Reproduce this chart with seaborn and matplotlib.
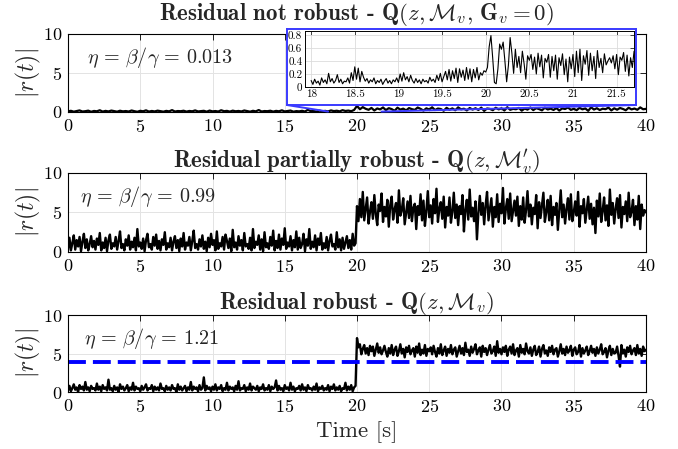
#!/usr/bin/env python3

import numpy as np
import pandas as pd
import matplotlib
matplotlib.use('Agg')
import matplotlib.pyplot as plt
import seaborn as sns
from matplotlib.patches import ConnectionPatch
from matplotlib.ticker import FuncFormatter

# ---- data (dt = 0.1 s for panels 2/3, 0.2 s for panel 1) ----
p1_pre = [0.08, 0.15, 0.04, 0.12, 0.20, 0.06, 0.10, 0.17, 0.03, 0.13,
          0.09, 0.22, 0.05, 0.14, 0.07, 0.18, 0.11, 0.04, 0.16, 0.08,
          0.12, 0.06, 0.19, 0.10, 0.03, 0.15, 0.09, 0.21, 0.05, 0.13,
          0.07, 0.17, 0.11, 0.04, 0.14, 0.08, 0.24, 0.06, 0.12, 0.10,
          0.16, 0.05, 0.13, 0.09, 0.20, 0.07, 0.11, 0.15, 0.04, 0.18,
          0.08, 0.12, 0.06, 0.22, 0.10, 0.14, 0.05, 0.17, 0.09, 0.13,
          0.07, 0.19, 0.11, 0.04, 0.15, 0.08, 0.25, 0.06, 0.12, 0.10,
          0.16, 0.05, 0.14, 0.09, 0.21, 0.07, 0.13, 0.18, 0.04, 0.11,
          0.08, 0.15, 0.06, 0.28, 0.10, 0.12, 0.05, 0.17, 0.09, 0.14,
          0.07, 0.20, 0.11, 0.16, 0.08, 0.23, 0.13, 0.18, 0.10, 0.26]
p1_post = [0.78, 0.35, 0.62, 0.41, 0.28, 0.52, 0.19, 0.45, 0.33, 0.58,
           0.24, 0.49, 0.37, 0.15, 0.55, 0.30, 0.43, 0.21, 0.50, 0.36,
           0.27, 0.57, 0.40, 0.18, 0.47, 0.32, 0.60, 0.25, 0.44, 0.38,
           0.16, 0.53, 0.29, 0.46, 0.22, 0.59, 0.34, 0.42, 0.20, 0.51,
           0.31, 0.48, 0.26, 0.56, 0.14, 0.45, 0.39, 0.23, 0.54, 0.33,
           0.47, 0.19, 0.61, 0.28, 0.40, 0.35, 0.52, 0.17, 0.44, 0.30,
           0.57, 0.24, 0.49, 0.37, 0.21, 0.55, 0.32, 0.43, 0.26, 0.50,
           0.18, 0.46, 0.38, 0.58, 0.27, 0.41, 0.23, 0.53, 0.34, 0.45,
           0.15, 0.60, 0.31, 0.48, 0.25, 0.42, 0.36, 0.56, 0.20, 0.47,
           0.29, 0.51, 0.39, 0.22, 0.54, 0.33, 0.44, 0.28, 0.59, 0.35,
           0.40]

# zoomed window of panel 1, 18.00 .. 21.70 s every 0.02 s
inset_r = [0.10, 0.04, 0.12, 0.06, 0.09, 0.03, 0.14, 0.07, 0.11, 0.05,
           0.21, 0.08, 0.13, 0.06, 0.10, 0.19, 0.07, 0.12, 0.05, 0.09,
           0.08, 0.14, 0.06, 0.22, 0.10, 0.31, 0.12, 0.29, 0.08, 0.24,
           0.15, 0.09, 0.13, 0.06, 0.11, 0.08, 0.14, 0.05, 0.10, 0.07,
           0.12, 0.04, 0.09, 0.13, 0.06, 0.10, 0.05, 0.11, 0.08, 0.14,
           0.07, 0.20, 0.09, 0.22, 0.11, 0.16, 0.08, 0.18, 0.10, 0.06,
           0.13, 0.07, 0.11, 0.05, 0.12, 0.08, 0.10, 0.06, 0.15, 0.09,
           0.12, 0.07, 0.18, 0.10, 0.21, 0.08, 0.16, 0.24, 0.11, 0.27,
           0.09, 0.25, 0.13, 0.29, 0.07, 0.28, 0.15, 0.26, 0.10, 0.30,
           0.12, 0.28, 0.08, 0.27, 0.14, 0.30, 0.11, 0.22, 0.18, 0.25,
           0.23, 0.30, 0.62, 0.79, 0.45, 0.07, 0.05, 0.28, 0.66, 0.58,
           0.69, 0.40, 0.08, 0.33, 0.76, 0.52, 0.21, 0.58, 0.30, 0.47,
           0.22, 0.55, 0.36, 0.12, 0.48, 0.41, 0.50, 0.27, 0.46, 0.20,
           0.52, 0.31, 0.49, 0.14, 0.44, 0.38, 0.50, 0.15, 0.47, 0.25,
           0.49, 0.12, 0.45, 0.33, 0.51, 0.19, 0.43, 0.08, 0.46, 0.28,
           0.50, 0.16, 0.55, 0.22, 0.58, 0.10, 0.48, 0.35, 0.56, 0.18,
           0.52, 0.25, 0.47, 0.13, 0.56, 0.30, 0.44, 0.22, 0.51, 0.34,
           0.40, 0.45, 0.37, 0.48, 0.28, 0.50, 0.19, 0.46, 0.41, 0.53,
           0.24, 0.49, 0.17, 0.45, 0.30, 0.55]

p2_pre = [0.4, 1.8, 0.2, 1.1, 2.1, 0.3, 1.5, 0.7, 1.9, 0.1,
          1.3, 2.3, 0.5, 1.6, 0.2, 1.0, 2.0, 0.6, 1.4, 0.3,
          1.7, 0.9, 2.4, 0.2, 1.2, 0.5, 1.8, 0.1, 1.5, 2.2,
          0.4, 1.1, 0.7, 1.9, 0.3, 1.4, 2.6, 0.5, 1.0, 0.2,
          1.6, 0.8, 2.1, 0.3, 1.3, 0.6, 1.8, 0.2, 2.9, 0.7,
          1.2, 0.4, 1.7, 0.1, 1.5, 2.3, 0.6, 1.0, 0.3, 1.9,
          0.8, 2.2, 0.4, 1.4, 0.2, 1.6, 0.9, 2.5, 0.3, 1.1,
          0.6, 1.8, 0.2, 1.3, 2.0, 0.5, 1.5, 0.1, 1.7, 0.7,
          2.4, 0.3, 1.2, 0.8, 1.9, 0.2, 1.4, 2.7, 0.5, 1.0,
          0.3, 1.6, 0.7, 2.1, 0.4, 1.3, 0.1, 1.8, 0.6, 2.3,
          0.9, 1.5, 0.2, 2.6, 0.4, 1.1, 0.7, 1.9, 0.3, 2.2,
          1.4, 0.5, 1.7, 0.1, 2.8, 0.6, 1.2, 0.3, 2.0, 0.8,
          1.5, 0.2, 2.4, 0.7, 1.0, 0.4, 1.8, 0.2, 2.9, 0.5,
          1.3, 0.9, 2.1, 0.3, 1.6, 0.1, 2.5, 0.6, 1.1, 0.4,
          1.9, 0.8, 2.7, 0.2, 1.4, 0.5, 2.2, 0.3, 1.7, 0.9,
          3.0, 0.4, 1.2, 0.7, 2.0, 0.2, 1.5, 0.6, 2.6, 0.3,
          1.8, 0.5, 1.0, 2.3, 0.1, 1.6, 0.8, 2.9, 0.4, 1.3,
          0.6, 2.1, 0.2, 1.7, 0.9, 2.4, 0.3, 1.1, 0.5, 1.9,
          0.2, 1.4, 2.2, 0.7, 1.0, 0.3, 2.5, 0.6, 1.6, 0.2,
          1.8, 0.4, 1.2, 2.0, 0.5, 1.5, 0.3, 2.3, 0.8, 1.1]
p2_post = [5.8, 3.9, 6.7, 4.4, 7.6, 4.0, 5.5, 6.9, 3.6, 5.1,
           6.3, 4.2, 7.2, 4.8, 3.4, 6.0, 5.2, 7.4, 3.8, 5.7,
           4.5, 6.6, 3.2, 5.9, 7.0, 4.1, 5.4, 6.2, 3.7, 7.8,
           4.6, 5.3, 6.8, 3.5, 5.0, 6.4, 4.3, 7.1, 3.9, 5.6,
           6.1, 2.9, 5.8, 4.7, 7.3, 4.0, 6.5, 3.3, 5.2, 7.7,
           4.4, 5.9, 3.6, 6.7, 4.9, 8.0, 3.8, 5.5, 6.3, 4.2,
           7.0, 3.1, 5.7, 4.6, 6.9, 3.7, 5.1, 7.5, 4.3, 6.0,
           3.4, 5.8, 4.8, 7.2, 2.6, 5.3, 6.6, 4.1, 7.9, 4.5,
           5.6, 3.9, 6.4, 1.6, 5.0, 7.1, 4.7, 6.2, 3.5, 5.9,
           7.6, 4.0, 5.4, 6.8, 3.2, 5.7, 4.4, 7.3, 3.8, 6.1,
           4.9, 8.1, 3.6, 5.5, 6.7, 4.2, 7.4, 3.9, 5.2, 6.5,
           4.6, 7.0, 3.3, 5.8, 4.1, 6.9, 3.7, 5.3, 7.7, 4.5,
           6.0, 3.5, 5.6, 4.8, 7.2, 3.0, 6.3, 4.3, 5.9, 7.5,
           3.8, 5.1, 6.6, 4.0, 7.1, 3.4, 5.7, 4.7, 6.2, 2.8,
           5.4, 7.8, 4.4, 6.0, 3.6, 5.5, 6.8, 4.1, 7.3, 3.9,
           5.0, 6.4, 4.6, 7.6, 3.2, 5.8, 4.9, 6.7, 3.7, 5.3,
           7.0, 4.2, 6.1, 3.5, 5.6, 2.4, 6.5, 4.5, 7.4, 3.8,
           5.2, 6.9, 4.0, 5.9, 3.3, 7.9, 4.7, 6.2, 3.6, 5.5,
           6.8, 4.3, 7.2, 3.1, 5.7, 4.8, 6.4, 3.9, 7.5, 4.4,
           5.1, 6.6, 3.4, 5.8, 4.1, 7.1, 2.9, 6.0, 4.6, 5.3,
           5.0]

p3_pre = [0.2, 0.8, 0.1, 0.5, 1.0, 0.3, 0.6, 0.0, 0.9, 0.4,
          0.7, 0.2, 1.3, 0.3, 0.6, 0.1, 0.8, 0.4, 0.5, 0.2,
          1.1, 0.3, 0.7, 0.1, 0.9, 0.4, 0.6, 0.2, 1.6, 0.3,
          0.5, 0.1, 0.8, 0.3, 0.6, 0.0, 1.0, 0.4, 0.7, 0.2,
          0.5, 0.9, 0.1, 0.6, 0.3, 1.2, 0.2, 0.7, 0.4, 0.5,
          0.1, 0.8, 0.3, 0.6, 1.0, 0.2, 0.5, 0.4, 0.9, 0.1,
          0.7, 0.3, 0.6, 0.2, 1.1, 0.4, 0.5, 0.1, 0.8, 0.3,
          0.6, 0.2, 0.9, 0.4, 0.5, 0.0, 1.0, 0.3, 0.7, 0.2,
          0.5, 0.8, 0.1, 0.6, 0.3, 1.3, 0.2, 0.7, 0.4, 0.6,
          0.1, 0.9, 0.3, 0.5, 1.9, 0.2, 0.8, 0.4, 0.6, 0.1,
          0.7, 0.3, 1.0, 0.2, 0.6, 0.4, 0.9, 0.1, 0.5, 0.3,
          1.2, 0.2, 0.7, 0.4, 0.6, 0.1, 0.8, 0.3, 1.4, 0.2,
          0.5, 0.4, 0.9, 0.1, 0.6, 0.3, 1.1, 0.2, 0.7, 0.5,
          0.3, 0.8, 0.1, 0.6, 0.4, 1.0, 0.2, 0.5, 0.3, 0.9,
          0.1, 0.7, 0.4, 0.6, 1.5, 0.2, 0.8, 0.3, 0.5, 0.1,
          0.9, 0.4, 0.6, 0.2, 1.2, 0.3, 0.7, 0.1, 0.5, 0.4,
          0.8, 0.2, 1.0, 0.3, 0.6, 0.1, 0.9, 0.4, 0.5, 0.2,
          0.7, 0.3, 1.1, 0.1, 0.6, 0.4, 0.8, 0.2, 0.5, 0.3,
          0.9, 0.1, 0.7, 0.4, 1.0, 0.2, 0.6, 0.3, 0.8, 0.1,
          0.5, 0.4, 1.2, 0.2, 0.7, 0.3, 0.9, 0.1, 0.6, 0.8]
p3_post = [7.0, 5.8, 6.2, 4.9, 5.6, 6.1, 5.0, 5.7, 4.8, 6.0,
           5.3, 5.9, 4.7, 5.5, 6.3, 5.1, 5.8, 4.9, 5.4, 6.0,
           5.2, 4.6, 5.7, 5.0, 6.1, 4.8, 5.5, 5.9, 4.7, 5.3,
           6.2, 5.0, 5.6, 4.5, 5.8, 5.2, 6.0, 4.9, 5.4, 5.7,
           4.6, 5.9, 5.1, 6.3, 4.8, 5.5, 5.0, 6.1, 4.7, 5.6,
           5.3, 5.8, 4.9, 6.0, 5.2, 4.6, 5.7, 5.0, 6.2, 4.8,
           5.4, 5.9, 4.7, 5.6, 5.1, 6.1, 4.9, 5.5, 5.8, 4.6,
           5.3, 6.0, 5.0, 5.7, 4.8, 6.4, 5.2, 5.5, 4.7, 5.9,
           5.1, 5.6, 6.2, 4.9, 5.4, 5.8, 4.6, 6.0, 5.2, 5.7,
           4.8, 5.5, 6.1, 5.0, 5.3, 5.9, 4.7, 6.6, 5.1, 5.6,
           4.9, 5.8, 5.2, 6.0, 4.7, 5.5, 5.9, 5.0, 6.2, 4.8,
           5.4, 5.7, 4.6, 6.1, 5.1, 5.6, 4.9, 6.3, 5.3, 5.0,
           5.8, 4.7, 5.5, 6.0, 4.8, 5.2, 5.9, 4.6, 5.6, 6.1,
           5.0, 5.4, 4.7, 5.8, 5.2, 6.0, 4.9, 5.5, 5.7, 4.6,
           5.3, 6.2, 5.0, 5.6, 4.8, 5.9, 5.1, 5.4, 6.0, 4.7,
           5.5, 5.8, 4.9, 5.2, 6.1, 4.6, 5.7, 5.0, 5.4, 5.9,
           4.8, 5.3, 6.0, 5.1, 5.6, 4.7, 5.8, 5.0, 5.5, 6.2,
           4.9, 5.2, 5.7, 4.5, 5.4, 6.0, 4.8, 5.6, 5.0, 5.1,
           5.9, 4.7, 3.3, 6.1, 5.0, 5.5, 4.6, 5.8, 5.2, 6.0,
           4.9, 5.4, 5.7, 4.8, 6.1, 5.0, 5.6, 4.7, 5.9, 5.3,
           5.5]

threshold = 3.9

titles = [r'Residual not robust - $\mathbf{Q}(z,\mathcal{M}_v,\,\mathbf{G}_v=\mathbf{0})$',
          r'Residual partially robust - $\mathbf{Q}(z,\mathcal{M}^{\prime}_v)$',
          r'Residual robust - $\mathbf{Q}(z,\mathcal{M}_v)$']
etas = [r'$\eta\,=\,\beta/\gamma\,=\,0.013$',
        r'$\eta\,=\,\beta/\gamma\,=\,0.99$',
        r'$\eta\,=\,\beta/\gamma\,=\,1.21$']


def series(pre, post, dt):
    t = np.arange(len(pre) + len(post)) * dt
    return pd.DataFrame({'t': t, 'r': pre + post})


df1 = series(p1_pre, p1_post, 0.2)
df2 = series(p2_pre, p2_post, 0.1)
df3 = series(p3_pre, p3_post, 0.1)
df_in = pd.DataFrame({'t': 18.0 + np.arange(len(inset_r)) * 0.02, 'r': inset_r})

sns.set_theme(style='whitegrid')
plt.rcParams['font.family'] = 'serif'
plt.rcParams['font.serif'] = ['cmr10', 'DejaVu Serif']
plt.rcParams['mathtext.fontset'] = 'cm'
plt.rcParams['axes.formatter.use_mathtext'] = True
plt.rcParams['axes.unicode_minus'] = False

fig = plt.figure(figsize=(6.78, 4.49), dpi=100)
fig.patch.set_facecolor('white')

boxes = [[0.1003, 0.7506, 0.8525, 0.1737],
         [0.1003, 0.4388, 0.8525, 0.1760],
         [0.1003, 0.1269, 0.8525, 0.1715]]
eta_pos = [(1.3, 7.0), (0.8, 7.0), (1.1, 7.0)]
line_w = [1.6, 1.7, 1.7]
title_pad = [10, 4, 4]

axes = []
for i, (box, df) in enumerate(zip(boxes, [df1, df2, df3])):
    ax = fig.add_axes(box)
    sns.lineplot(data=df, x='t', y='r', ax=ax, color='black', linewidth=line_w[i],
                 estimator=None, sort=False)
    ax.set_xlim(0, 40)
    ax.set_ylim(0, 10)
    ax.set_xticks(range(0, 41, 5))
    ax.set_yticks([0, 5, 10])
    ax.set_facecolor('white')
    ax.grid(True, color='#e3e3e3', linewidth=0.7)
    for s in ax.spines.values():
        s.set_color('black')
        s.set_linewidth(0.8)
    ax.tick_params(direction='in', length=4, width=0.6, top=True, right=True,
                   labelsize=13, pad=4, colors='black')
    ax.set_xlabel('')
    ax.set_ylabel(r'$|r(t)|$', fontsize=17, labelpad=0)
    ax.set_title(titles[i], fontsize=16.5, pad=title_pad[i], fontfamily='cmb10')
    ax.text(eta_pos[i][0], eta_pos[i][1], etas[i], fontsize=14.5, va='center', ha='left')
    axes.append(ax)

axes[2].axhline(threshold, color='blue', linewidth=2.8, linestyle=(0, (4.6, 1.8)))
axes[2].set_xlabel('Time [s]', fontsize=16.5, labelpad=5)

# zoom window on panel 1
frame = fig.add_axes([0.4233, 0.7661, 0.5147, 0.1693])
frame.set_xticks([])
frame.set_yticks([])
frame.grid(False)
frame.set_facecolor('white')
for s in frame.spines.values():
    s.set_color('#3a3aff')
    s.set_linewidth(1.4)

axin = fig.add_axes([0.4499, 0.8062, 0.4853, 0.1247])
sns.lineplot(data=df_in, x='t', y='r', ax=axin, color='black', linewidth=0.8,
             estimator=None, sort=False)
axin.set_xlim(17.93, 21.70)
axin.set_ylim(0, 0.86)
axin.set_xticks([18, 18.5, 19, 19.5, 20, 20.5, 21, 21.5])
axin.set_yticks([0, 0.2, 0.4, 0.6, 0.8])
fmt = FuncFormatter(lambda v, p: '%g' % v)
axin.xaxis.set_major_formatter(fmt)
axin.yaxis.set_major_formatter(fmt)
axin.set_xlabel('')
axin.set_ylabel('')
axin.set_facecolor('white')
axin.grid(True, color='#dcdcdc', linewidth=0.6)
for s in axin.spines.values():
    s.set_color('black')
    s.set_linewidth(0.7)
axin.tick_params(direction='in', length=3, width=0.5, top=True, right=True,
                 labelsize=8, pad=2, colors='black')

for xa, xb in [(0, 18.0), (1, 21.7)]:
    con = ConnectionPatch(xyA=(xa, 0), coordsA=frame.transAxes,
                          xyB=(xb, 0.05), coordsB=axes[0].transData,
                          color='#3a3aff', linewidth=1.4)
    fig.add_artist(con)

plt.savefig('out.png', dpi=100)
